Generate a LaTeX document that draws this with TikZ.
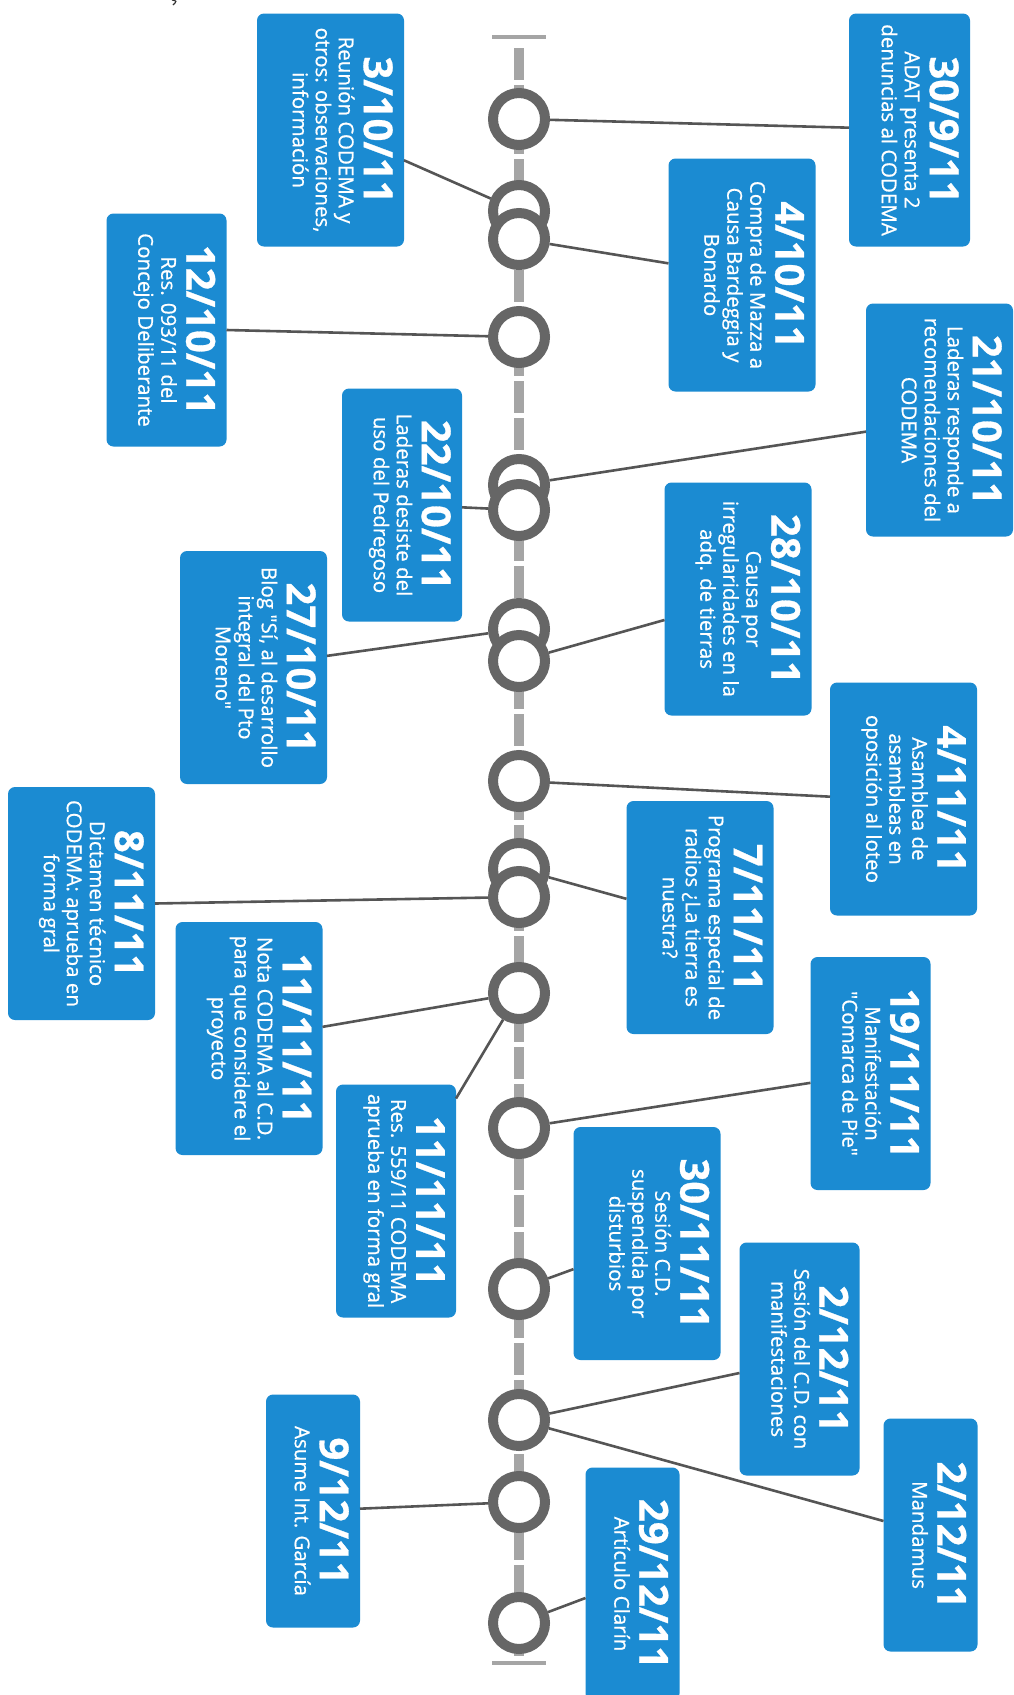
\documentclass[tikz,border=0pt]{standalone}
\usepackage{fontspec}
\setmainfont{Open Sans}
\newfontfamily\bodyfam{Open Sans}[FakeBold=0.7]
\usetikzlibrary{calc}
\definecolor{boxblue}{RGB}{27,139,210}
\definecolor{ringgray}{RGB}{102,102,102}
\definecolor{axisgray}{RGB}{165,165,165}
\definecolor{linkgray}{RGB}{85,85,85}
\newcommand\datefont{\fontsize{40}{44}\selectfont\bfseries}
\newcommand\bodyfont{\bodyfam\fontsize{20.5}{23}\selectfont}
\tikzset{
  box/.style={fill=boxblue, rounded corners=7pt, inner sep=0pt, outer sep=0pt, minimum height=233pt},
  txt/.style={rotate=-90, anchor=north, align=center, text=white, font=\bodyfont, inner xsep=0pt, inner ysep=11pt},
  dot/.style={circle, draw=ringgray, line width=10pt, fill=white, minimum size=52pt, inner sep=0pt},
  link/.style={draw=linkgray, line width=2.6pt},
  axisline/.style={draw=axisgray, line width=10pt, dash pattern=on 32pt off 5pt},
  capbar/.style={draw=axisgray, line width=4pt}
}
\newcommand\tbox[5]{%
  \node[box, minimum width=#4] (#1) at (#2,#3) {};
  \node[txt] (#1t) at (#1.east) {#5};}
\begin{document}
\begin{tikzpicture}[x=1pt, y=-1pt]
\useasboundingbox (0,0) rectangle (1013,1695);
\clip (0,0) rectangle (1013,1695);
\fill[white] (0,0) rectangle (1013,1695);
% stray mark
\draw[line width=1.2pt, black!80] (172,0) .. controls (177,1) .. (173,5);
% axis
\draw[axisline] (519,48) -- (519,1656);
\draw[capbar] (492,37) -- (546,37);
\draw[capbar] (492,1663) -- (546,1663);
% circles
\node[dot] (c1) at (519,119) {};
\node[dot] (c2) at (519,211) {};
\node[dot] (c3) at (519,239) {};
\node[dot] (c4) at (519,337) {};
\node[dot] (c5) at (519,485) {};
\node[dot] (c6) at (519,510) {};
\node[dot] (c7) at (519,629) {};
\node[dot] (c8) at (519,661) {};
\node[dot] (c9) at (519,781) {};
\node[dot] (c10) at (519,869) {};
\node[dot] (c11) at (519,897) {};
\node[dot] (c12) at (519,993) {};
\node[dot] (c13) at (519,1128) {};
\node[dot] (c14) at (519,1289) {};
\node[dot] (c15) at (519,1420) {};
\node[dot] (c16) at (519,1502) {};
\node[dot] (c17) at (519,1623) {};
% boxes
\tbox{b1}{909.5}{130}{121}{{\datefont 30/9/11}\\[2pt]ADAT presenta 2\\denuncias al CODEMA}
\tbox{b2}{330.5}{130}{147}{{\datefont 3/10/11}\\[2pt]Reunión CODEMA y\\otros: observaciones,\\información}
\tbox{b3}{742}{275}{147}{{\datefont 4/10/11}\\[2pt]Compra de Mazza a\\Causa Bardeggia y\\Bonardo}
\tbox{b4}{166.5}{330}{120}{{\datefont 12/10/11}\\[2pt]Res. 093/11 del\\Concejo Deliberante}
\tbox{b5}{939.5}{420}{147}{{\datefont 21/10/11}\\[2pt]Laderas responde a\\recomendaciones del\\CODEMA}
\tbox{b6}{402}{505}{120}{{\datefont 22/10/11}\\[2pt]Laderas desiste del\\uso del Pedregoso}
\tbox{b7}{738}{599}{147}{{\datefont 28/10/11}\\[2pt]Causa por\\irregularidades en la\\adq. de tierras}
\tbox{b8}{253.5}{667.5}{147}{{\datefont 27/10/11}\\[2pt]Blog "Sí, al desarrollo\\integral del Pto\\Moreno"}
\tbox{b9}{903.5}{799}{147}{{\datefont 4/11/11}\\[2pt]Asamblea de\\asambleas en\\oposición al loteo}
\tbox{b10}{700}{917.5}{147}{{\datefont 7/11/11}\\[2pt]Programa especial de\\radios ¿La tierra es\\nuestra?}
\tbox{b11}{81.5}{903.5}{147}{{\datefont 8/11/11}\\[2pt]Dictamen técnico\\CODEMA: aprueba en\\forma gral}
\tbox{b12}{249}{1038.5}{147}{{\datefont 11/11/11}\\[2pt]Nota CODEMA al C.D.\\para que considere el\\proyecto}
\tbox{b13}{396}{1201}{120}{{\datefont 11/11/11}\\[2pt]Res. 559/11 CODEMA\\aprueba en forma gral}
\tbox{b14}{870.5}{1073.5}{120}{{\datefont 19/11/11}\\[2pt]Manifestación\\"Comarca de Pie"}
\tbox{b15}{647}{1243.5}{147}{{\datefont 30/11/11}\\[2pt]Sesión C.D.\\suspendida por\\disturbios}
\tbox{b16}{799.5}{1359}{120}{{\datefont 2/12/11}\\[2pt]Sesión del C.D. con\\manifestaciones}
\tbox{b17}{930.5}{1535}{94}{{\datefont 2/12/11}\\[2pt]Mandamus}
\tbox{b18}{313}{1511}{94}{{\datefont 9/12/11}\\[2pt]Asume Int. García}
\tbox{b19}{632.5}{1584}{94}{{\datefont 29/12/11}\\[2pt]Artículo Clarín}
% connectors
\draw[link] (c1) -- ($(b1.north west)!0.49!(b1.south west)$);
\draw[link] (c2) -- ($(b2.north east)!0.63!(b2.south east)$);
\draw[link] (c3) -- ($(b3.north west)!0.45!(b3.south west)$);
\draw[link] (c4) -- ($(b4.north east)!0.50!(b4.south east)$);
\draw[link] (c5) -- ($(b5.north west)!0.55!(b5.south west)$);
\draw[link] (c6) -- ($(b6.north east)!0.51!(b6.south east)$);
\draw[link] (c8) -- ($(b7.north west)!0.59!(b7.south west)$);
\draw[link] (c7) -- ($(b8.north east)!0.45!(b8.south east)$);
\draw[link] (c9) -- ($(b9.north west)!0.49!(b9.south west)$);
\draw[link] (c10) -- ($(b10.north west)!0.42!(b10.south west)$);
\draw[link] (c11) -- ($(b11.north east)!0.50!(b11.south east)$);
\draw[link] (c12) -- ($(b12.north east)!0.45!(b12.south east)$);
\draw[link] (c12) -- ($(b13.north east)!0.06!(b13.south east)$);
\draw[link] (c13) -- ($(b14.north west)!0.54!(b14.south west)$);
\draw[link] (c14) -- ($(b15.north west)!0.61!(b15.south west)$);
\draw[link] (c15) -- ($(b16.north west)!0.56!(b16.south west)$);
\draw[link] (c15) -- ($(b17.north west)!0.44!(b17.south west)$);
\draw[link] (c16) -- ($(b18.north east)!0.49!(b18.south east)$);
\draw[link] (c17) -- ($(b19.north west)!0.56!(b19.south west)$);
\end{tikzpicture}
\end{document}
